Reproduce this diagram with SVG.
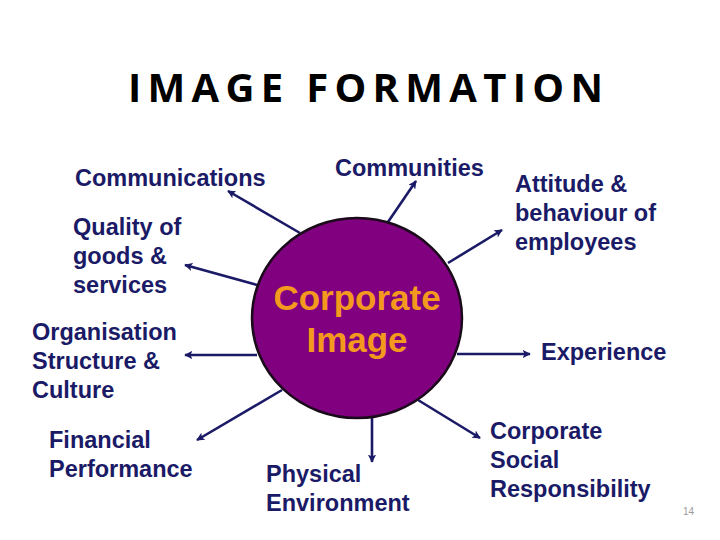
<svg xmlns="http://www.w3.org/2000/svg" width="720" height="540" viewBox="0 0 720 540">
<defs>
<marker id="ah" viewBox="0 0 10 10" refX="9" refY="5" markerWidth="3.2" markerHeight="3.2" orient="auto" markerUnits="strokeWidth">
<path d="M0,0 L10,5 L0,10 L2.5,5 Z" fill="#1a1a66"/>
</marker>
<style>
.lbl{font-family:"Liberation Sans",Arial,sans-serif;font-weight:bold;font-size:23.5px;fill:#1a1a66}
.con{stroke:#1a1a66;stroke-width:2.6;fill:none;marker-end:url(#ah)}
.ci{font-family:"Liberation Sans",Arial,sans-serif;font-weight:bold;font-size:35px;fill:#F39A1E;text-anchor:middle}
</style>
</defs>
<rect width="720" height="540" fill="#ffffff"/>
<text x="128" y="102" textLength="475" lengthAdjust="spacing" font-family="'Open Sans','DejaVu Sans',sans-serif" font-weight="bold" font-size="40" fill="#000">IMAGE FORMATION</text>
<g id="connectors">
<line class="con" x1="300" y1="233" x2="228" y2="191"/>
<line class="con" x1="388" y1="222" x2="416" y2="181"/>
<line class="con" x1="448" y1="263" x2="502" y2="230"/>
<line class="con" x1="257" y1="285" x2="185" y2="265"/>
<line class="con" x1="457" y1="354" x2="530" y2="354"/>
<line class="con" x1="257" y1="355" x2="185" y2="355"/>
<line class="con" x1="282" y1="390" x2="197" y2="440"/>
<line class="con" x1="372" y1="417" x2="372" y2="462"/>
<line class="con" x1="418" y1="400" x2="480" y2="438"/>
</g>
<g id="corporate-image">
<ellipse cx="357" cy="318" rx="105" ry="100" fill="#800080" stroke="#1a0a1a" stroke-width="2.5"/>
<text class="ci" x="357" y="310">Corporate</text>
<text class="ci" x="357" y="352">Image</text>
</g>
<g id="communications"><text class="lbl" x="75" y="186">Communications</text></g>
<g id="communities"><text class="lbl" x="335" y="176">Communities</text></g>
<g id="attitude"><text class="lbl" x="515" y="192">Attitude &amp;</text><text class="lbl" x="515" y="221">behaviour of</text><text class="lbl" x="515" y="250">employees</text></g>
<g id="quality"><text class="lbl" x="73" y="235">Quality of</text><text class="lbl" x="73" y="264">goods &amp;</text><text class="lbl" x="73" y="293">services</text></g>
<g id="experience"><text class="lbl" x="541" y="360">Experience</text></g>
<g id="organisation"><text class="lbl" x="32" y="340">Organisation</text><text class="lbl" x="32" y="369">Structure &amp;</text><text class="lbl" x="32" y="398">Culture</text></g>
<g id="financial"><text class="lbl" x="49" y="448">Financial</text><text class="lbl" x="49" y="477">Performance</text></g>
<g id="physical"><text class="lbl" x="266" y="482">Physical</text><text class="lbl" x="266" y="511">Environment</text></g>
<g id="csr"><text class="lbl" x="490" y="439">Corporate</text><text class="lbl" x="490" y="468">Social</text><text class="lbl" x="490" y="497">Responsibility</text></g>
<text x="683" y="515" font-family="'Liberation Sans',Arial,sans-serif" font-size="10" fill="#9a9a9a">14</text>
</svg>
